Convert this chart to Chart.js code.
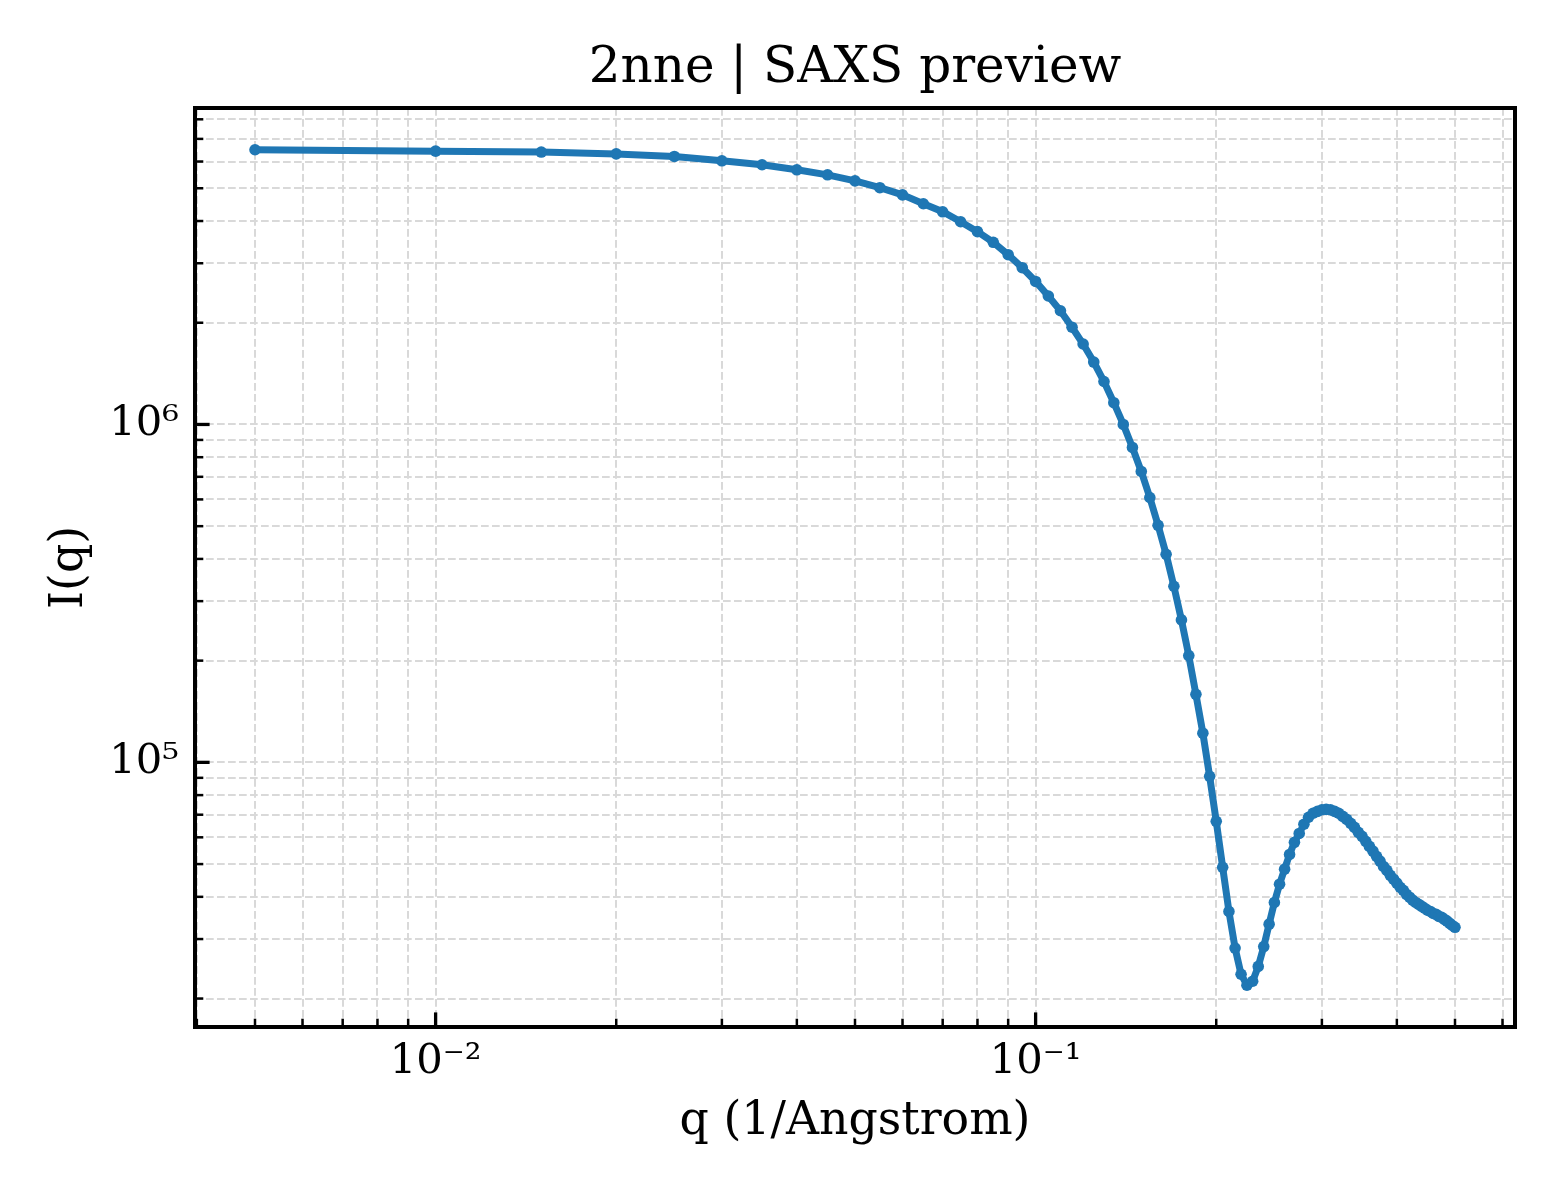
<!DOCTYPE html>
<html><head><meta charset="utf-8">
<script src="https://cdn.jsdelivr.net/npm/chart.js@4.4.1/dist/chart.umd.min.js"></script>
<style>html,body{margin:0;padding:0;background:#fff}canvas{display:block}</style>
</head><body>
<canvas id="c" width="1560" height="1200" style="width:1560px;height:1200px"></canvas>
<script>
const qValues = [
  0.005, 0.010, 0.015, 0.020, 0.025, 0.030, 0.035, 0.040, 0.045, 0.050,
  0.055, 0.060, 0.065, 0.070, 0.075, 0.080, 0.085, 0.090, 0.095, 0.100,
  0.105, 0.110, 0.115, 0.120, 0.125, 0.130, 0.135, 0.140, 0.145, 0.150,
  0.155, 0.160, 0.165, 0.170, 0.175, 0.180, 0.185, 0.190, 0.195, 0.200,
  0.205, 0.210, 0.215, 0.220, 0.225, 0.230, 0.235, 0.240, 0.245, 0.250,
  0.255, 0.260, 0.265, 0.270, 0.275, 0.280, 0.285, 0.290, 0.295, 0.300,
  0.305, 0.310, 0.315, 0.320, 0.325, 0.330, 0.335, 0.340, 0.345, 0.350,
  0.355, 0.360, 0.365, 0.370, 0.375, 0.380, 0.385, 0.390, 0.395, 0.400,
  0.405, 0.410, 0.415, 0.420, 0.425, 0.430, 0.435, 0.440, 0.445, 0.450,
  0.455, 0.460, 0.465, 0.470, 0.475, 0.480, 0.485, 0.490, 0.495, 0.500
];
const intensity = [
  6.50e6, 6.44e6, 6.40e6, 6.32e6, 6.21e6, 6.03e6, 5.87e6, 5.67e6, 5.48e6, 5.26e6,
  5.02e6, 4.78e6, 4.50e6, 4.26e6, 3.98e6, 3.72e6, 3.46e6, 3.18e6, 2.91e6, 2.65e6,
  2.40e6, 2.17e6, 1.94e6, 1.73e6, 1.53e6, 1.34e6, 1.16e6, 1.00e6, 8.55e5, 7.26e5,
  6.08e5, 5.03e5, 4.13e5, 3.32e5, 2.64e5, 2.07e5, 1.59e5, 1.22e5, 9.09e4, 6.69e4,
  4.89e4, 3.62e4, 2.82e4, 2.36e4, 2.19e4, 2.25e4, 2.49e4, 2.85e4, 3.32e4, 3.85e4,
  4.36e4, 4.83e4, 5.34e4, 5.80e4, 6.16e4, 6.56e4, 6.88e4, 7.07e4, 7.16e4, 7.24e4,
  7.26e4, 7.24e4, 7.16e4, 7.07e4, 6.92e4, 6.78e4, 6.60e4, 6.42e4, 6.21e4, 6.04e4,
  5.84e4, 5.64e4, 5.46e4, 5.27e4, 5.10e4, 4.92e4, 4.79e4, 4.63e4, 4.51e4, 4.39e4,
  4.27e4, 4.18e4, 4.07e4, 3.99e4, 3.91e4, 3.85e4, 3.80e4, 3.75e4, 3.70e4, 3.65e4,
  3.62e4, 3.57e4, 3.55e4, 3.50e4, 3.48e4, 3.43e4, 3.39e4, 3.34e4, 3.29e4, 3.25e4
];
const xTickValues = [0.004, 0.005, 0.006, 0.007, 0.008, 0.009, 0.01, 0.02, 0.03, 0.04, 0.05, 0.06, 0.07, 0.08, 0.09, 0.1, 0.2, 0.3, 0.4, 0.5, 0.6];
const xMajorTicks = [0.01, 0.1];
const xMajorLabels = ['10\u207B\u00B2', '10\u207B\u00B9'];
const yTickValues = [2e4, 3e4, 4e4, 5e4, 6e4, 7e4, 8e4, 9e4, 1e5, 2e5, 3e5, 4e5, 5e5, 6e5, 7e5, 8e5, 9e5, 1e6, 2e6, 3e6, 4e6, 5e6, 6e6, 7e6, 8e6];
const yMajorTicks = [1e5, 1e6];
const yMajorLabels = ['10\u2075', '10\u2076'];
const titleText = '2nne | SAXS preview';
const xLabel = 'q (1/Angstrom)';
const yLabel = 'I(q)';

// matplotlib-like 5% margins in log space
function logLimits(arr) {
  const lo = Math.log10(Math.min(...arr)), hi = Math.log10(Math.max(...arr));
  const m = (hi - lo) * 0.05;
  return [Math.pow(10, lo - m), Math.pow(10, hi + m)];
}
const [xMin, xMax] = logLimits(qValues);
const [yMin, yMax] = logLimits(intensity);

const FONT = 'DejaVu Serif';
const C0 = '#1f77b4';

const framePlugin = {
  id: 'frame',
  afterDatasetsDraw(chart) {
    const {ctx, chartArea: a, scales: {x, y}} = chart;
    ctx.save();
    ctx.strokeStyle = '#000';
    ctx.lineCap = 'butt';
    x.ticks.forEach(t => {
      const px = x.getPixelForValue(t.value);
      const major = xMajorTicks.includes(t.value);
      ctx.lineWidth = major ? 3.3 : 2.5;
      const len = major ? 14.6 : 8.3;
      ctx.beginPath(); ctx.moveTo(px, a.bottom); ctx.lineTo(px, a.bottom - len); ctx.stroke();
    });
    y.ticks.forEach(t => {
      const py = y.getPixelForValue(t.value);
      const major = yMajorTicks.includes(t.value);
      ctx.lineWidth = major ? 3.3 : 2.5;
      const len = major ? 14.6 : 8.3;
      ctx.beginPath(); ctx.moveTo(a.left, py); ctx.lineTo(a.left + len, py); ctx.stroke();
    });
    ctx.lineWidth = 4;
    ctx.strokeRect(a.left, a.top, a.right - a.left, a.bottom - a.top);
    ctx.restore();
  }
};

new Chart(document.getElementById('c'), {
  type: 'line',
  data: {
    datasets: [{
      data: qValues.map((q, i) => ({x: q, y: intensity[i]})),
      borderColor: C0,
      backgroundColor: C0,
      borderWidth: 7,
      pointRadius: 5.8,
      pointBorderWidth: 0,
      pointBackgroundColor: C0,
      tension: 0,
      fill: false
    }]
  },
  options: {
    responsive: false,
    animation: false,
    devicePixelRatio: 1,
    layout: {padding: {left: 0, right: 45, top: 0, bottom: 0}},
    plugins: {
      legend: {display: false},
      tooltip: {enabled: false},
      title: {
        display: true, fullSize: false, text: titleText, color: '#000',
        font: {family: FONT, size: 50, weight: 'normal', lineHeight: 1.2},
        padding: {top: 39, bottom: 9}
      }
    },
    scales: {
      x: {
        type: 'logarithmic', min: xMin, max: xMax,
        afterBuildTicks: s => { s.ticks = xTickValues.map(v => ({value: v})); },
        afterFit: s => { s.height = 173; },
        grid: {color: '#d9d9d9', lineWidth: 2, drawTicks: false},
        border: {display: false, dash: [7.7, 3.3]},
        ticks: {
          autoSkip: false, maxRotation: 0, minRotation: 0, padding: 10, color: '#000',
          font: {family: FONT, size: 41.7, lineHeight: 1.2},
          callback: v => { const k = xMajorTicks.indexOf(v); return k >= 0 ? xMajorLabels[k] : ''; }
        },
        title: {
          display: true, text: xLabel, color: '#000',
          font: {family: FONT, size: 45.8, lineHeight: 1.2},
          padding: {top: 0, bottom: 50}
        }
      },
      y: {
        type: 'logarithmic', min: yMin, max: yMax,
        afterBuildTicks: s => { s.ticks = yTickValues.map(v => ({value: v})); },
        afterFit: s => { s.width = 195; },
        grid: {color: '#d9d9d9', lineWidth: 2, drawTicks: false},
        border: {display: false, dash: [7.7, 3.3]},
        ticks: {
          autoSkip: false, padding: 16, color: '#000',
          font: {family: FONT, size: 41.7, lineHeight: 1.2},
          callback: v => { const k = yMajorTicks.indexOf(v); return k >= 0 ? yMajorLabels[k] : ''; }
        },
        title: {
          display: true, text: yLabel, color: '#000',
          font: {family: FONT, size: 45.8, lineHeight: 1.2},
          padding: {top: 43, bottom: 0}
        }
      }
    }
  },
  plugins: [framePlugin]
});
</script>
</body></html>
